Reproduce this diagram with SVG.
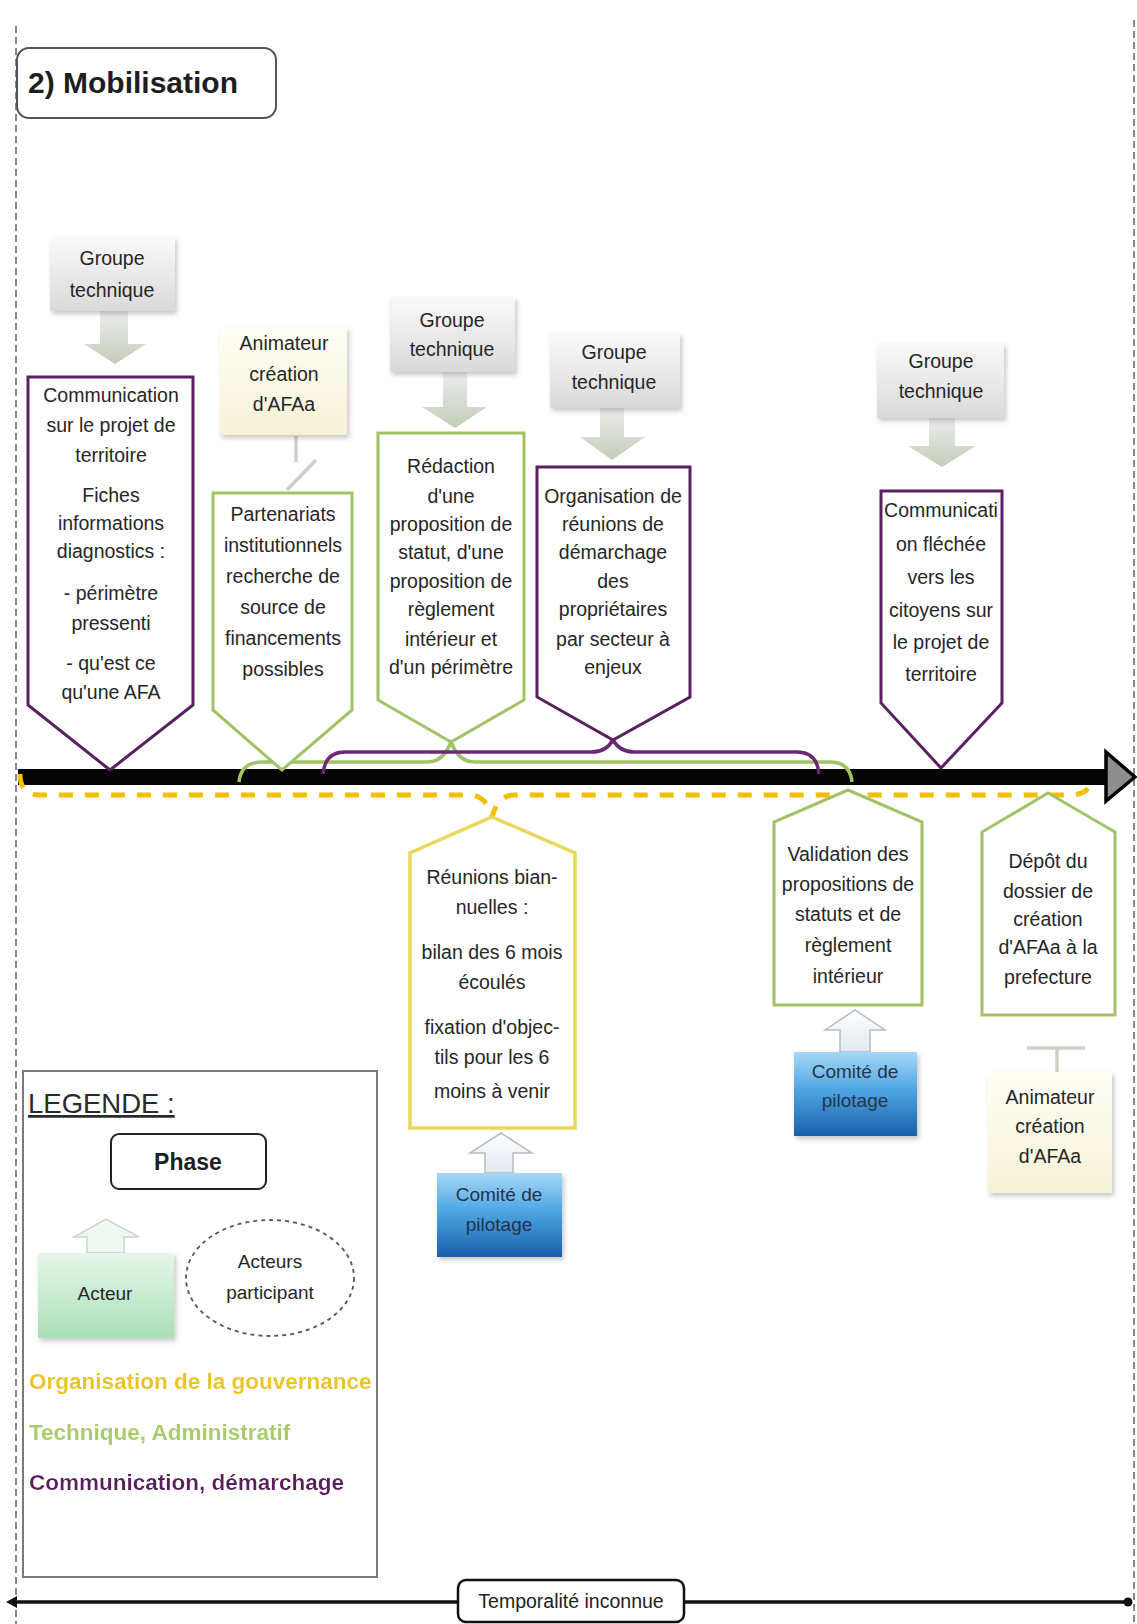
<svg xmlns="http://www.w3.org/2000/svg" width="1137" height="1624" viewBox="0 0 1137 1624">
<defs>
  <linearGradient id="gGray" x1="0" y1="0" x2="0" y2="1">
    <stop offset="0" stop-color="#fafafa"/>
    <stop offset="1" stop-color="#d9d9d9"/>
  </linearGradient>
  <linearGradient id="gArrowDown" x1="0" y1="0" x2="0" y2="1">
    <stop offset="0" stop-color="#ececec"/>
    <stop offset="1" stop-color="#c3cdb8"/>
  </linearGradient>
  <linearGradient id="gCream" x1="0" y1="0" x2="0" y2="1">
    <stop offset="0" stop-color="#fffff6"/>
    <stop offset="1" stop-color="#f6f1d6"/>
  </linearGradient>
  <linearGradient id="gBlue" x1="0" y1="0" x2="0" y2="1">
    <stop offset="0" stop-color="#a6d8f7"/>
    <stop offset="0.45" stop-color="#4ea6e2"/>
    <stop offset="1" stop-color="#1a5fab"/>
  </linearGradient>
  <linearGradient id="gUp" x1="0" y1="0" x2="0" y2="1">
    <stop offset="0" stop-color="#ffffff"/>
    <stop offset="1" stop-color="#dfe8f0"/>
  </linearGradient>
  <linearGradient id="gMint" x1="0" y1="0" x2="0" y2="1">
    <stop offset="0" stop-color="#e6f7ea"/>
    <stop offset="1" stop-color="#a9dfb6"/>
  </linearGradient>
  <filter id="shadow" x="-10%" y="-10%" width="130%" height="130%">
    <feDropShadow dx="2" dy="3" stdDeviation="2.5" flood-color="#000" flood-opacity="0.22"/>
  </filter>
  <filter id="glow" x="-5%" y="-30%" width="110%" height="160%">
    <feGaussianBlur in="SourceAlpha" stdDeviation="1.5" result="b"/>
    <feFlood flood-color="#ffffff"/>
    <feComposite in2="b" operator="in"/>
    <feMerge><feMergeNode/><feMergeNode in="SourceGraphic"/></feMerge>
  </filter>
</defs>
<style>
  text { font-family: "Liberation Sans", Arial, sans-serif; fill: #262626; }
  .t { font-size: 19.5px; text-anchor: middle; }
  .ts { font-size: 19px; text-anchor: middle; }
  .purple { fill: #ffffff; stroke: #5a2160; stroke-width: 3; stroke-linejoin: miter; }
  .green { fill: #ffffff; stroke: #a2c266; stroke-width: 3; }
  .yellow { fill: #ffffff; stroke: #e9d85a; stroke-width: 3.5; }
  .gt { fill: url(#gGray); filter: url(#shadow); }
  .darrow { fill: url(#gArrowDown); }
  .uarrow { fill: url(#gUp); stroke: #b5bcc4; stroke-width: 1.5; }
  .anim { fill: url(#gCream); filter: url(#shadow); }
  .comite { fill: url(#gBlue); filter: url(#shadow); }
  .faded { fill: none; stroke: #cfcfc8; stroke-width: 3.5; }
  .vdash { stroke: #6a6a6a; stroke-width: 1.6; stroke-dasharray: 7 4; fill: none; }
  .leg { font-size: 22.5px; font-weight: bold; }
</style>

<!-- frame dashed lines -->
<g id="frame">
  <line class="vdash" x1="16" y1="26" x2="16" y2="1624"/>
  <line class="vdash" x1="1134" y1="20" x2="1134" y2="1624"/>
</g>

<!-- title -->
<g id="title">
  <rect x="17" y="48" width="259" height="70" rx="12" fill="#ffffff" stroke="#555" stroke-width="2"/>
  <text x="28" y="93" style="font-size:30px;font-weight:bold;fill:#1e1e1e">2) Mobilisation</text>
</g>

<!-- connectors -->
<g id="connectors">
  <!-- main timeline -->
  <rect x="18" y="769" width="1090" height="16" fill="#050505"/>
  <polygon points="1106,752 1135,777 1106,801" fill="#8e8e8e" stroke="#000" stroke-width="3.5" stroke-linejoin="miter"/>
  <!-- braces -->
  <path d="M239 782 Q241 762 262 762 L428 762 Q443 762 451 742 Q459 762 474 762 L830 762 Q850 762 852 782" fill="none" stroke="#a2c266" stroke-width="3.5"/>
  <path d="M323 774 Q325 752 345 752 L592 752 Q606 752 613 740 Q620 752 634 752 L797 752 Q817 752 819 774" fill="none" stroke="#6c2876" stroke-width="3.5"/>
  <path d="M20 774 Q20 795 40 795 L470 795 Q486 795 492 817 Q498 795 514 795 L1070 795 Q1090 795 1092 778" fill="none" stroke="#f2c000" stroke-width="5" stroke-dasharray="14 12"/>
  <!-- actor arrows (down) -->
  <path class="darrow" d="M100 311 H128 V344 H146 L115 364 L84 344 H100 Z"/>
  <path class="darrow" d="M443 372 H467 V407 H487 L455 428 L422 407 H443 Z"/>
  <path class="darrow" d="M600 408 H624 V437 H645 L612 460 L580 437 H600 Z"/>
  <path class="darrow" d="M929 418 H955 V446 H976 L942 467 L908 446 H929 Z"/>
  <!-- actor arrows (up) -->
  <path class="uarrow" d="M485 1173 V1153 H470 L501 1133 L532 1153 H513 V1173 Z"/>
  <path class="uarrow" d="M840 1052 V1030 H825 L855 1010 L885 1030 H870 V1052 Z"/>
  <!-- faded connectors from Animateur boxes -->
  <path class="faded" d="M296 436 V462 M316 460 L287 490"/>
  <path class="faded" d="M1027 1048 H1085 M1057 1048 V1072"/>
  <!-- bottom timeline -->
  <line x1="14" y1="1602" x2="1127" y2="1602" stroke="#111" stroke-width="3.5"/>
  <polygon points="6,1602 17,1596 17,1608" fill="#111"/>
  <circle cx="1128" cy="1602" r="4.5" fill="#111"/>
</g>

<!-- top nodes -->
<g id="gt1">
  <rect class="gt" x="50" y="237" width="125" height="74"/>
  <text class="t" x="112" y="265">Groupe</text>
  <text class="t" x="112" y="297">technique</text>
</g>
<g id="phase1">
  <path class="purple" d="M28 377 H193 V705 L110 770 L28 705 Z"/>
  <text class="t" x="111" y="402">Communication</text>
  <text class="t" x="111" y="432">sur le projet de</text>
  <text class="t" x="111" y="462">territoire</text>
  <text class="t" x="111" y="502">Fiches</text>
  <text class="t" x="111" y="530">informations</text>
  <text class="t" x="111" y="558">diagnostics :</text>
  <text class="t" x="111" y="600">- périmètre</text>
  <text class="t" x="111" y="630">pressenti</text>
  <text class="t" x="111" y="670">- qu'est ce</text>
  <text class="t" x="111" y="699">qu'une AFA</text>
</g>
<g id="anim1">
  <rect class="anim" x="220" y="327" width="127" height="108"/>
  <text class="t" x="284" y="350">Animateur</text>
  <text class="t" x="284" y="381">création</text>
  <text class="t" x="284" y="411">d'AFAa</text>
</g>
<g id="phase2">
  <path class="green" d="M213 493 H352 V710 L282 770 L213 710 Z"/>
  <text class="t" x="283" y="521">Partenariats</text>
  <text class="t" x="283" y="552">institutionnels</text>
  <text class="t" x="283" y="583">recherche de</text>
  <text class="t" x="283" y="614">source de</text>
  <text class="t" x="283" y="645">financements</text>
  <text class="t" x="283" y="676">possibles</text>
</g>
<g id="gt3">
  <rect class="gt" x="390" y="297" width="125" height="75"/>
  <text class="t" x="452" y="327">Groupe</text>
  <text class="t" x="452" y="356">technique</text>
</g>
<g id="phase3">
  <path class="green" d="M378 433 H524 V700 L451 742 L378 700 Z"/>
  <text class="t" x="451" y="473">Rédaction</text>
  <text class="t" x="451" y="503">d'une</text>
  <text class="t" x="451" y="531">proposition de</text>
  <text class="t" x="451" y="559">statut, d'une</text>
  <text class="t" x="451" y="588">proposition de</text>
  <text class="t" x="451" y="616">règlement</text>
  <text class="t" x="451" y="646">intérieur et</text>
  <text class="t" x="451" y="674">d'un périmètre</text>
</g>
<g id="gt4">
  <rect class="gt" x="550" y="333" width="130" height="75"/>
  <text class="t" x="614" y="359">Groupe</text>
  <text class="t" x="614" y="389">technique</text>
</g>
<g id="phase4">
  <path class="purple" d="M537 467 H690 V697 L613 740 L537 697 Z"/>
  <text class="t" x="613" y="503">Organisation de</text>
  <text class="t" x="613" y="531">réunions de</text>
  <text class="t" x="613" y="559">démarchage</text>
  <text class="t" x="613" y="588">des</text>
  <text class="t" x="613" y="616">propriétaires</text>
  <text class="t" x="613" y="646">par secteur à</text>
  <text class="t" x="613" y="674">enjeux</text>
</g>
<g id="gt5">
  <rect class="gt" x="877" y="343" width="127" height="75"/>
  <text class="t" x="941" y="368">Groupe</text>
  <text class="t" x="941" y="398">technique</text>
</g>
<g id="phase5">
  <path class="purple" d="M881 491 H1002 V703 L941 768 L881 703 Z"/>
  <text class="t" x="941" y="517">Communicati</text>
  <text class="t" x="941" y="551">on fléchée</text>
  <text class="t" x="941" y="584">vers les</text>
  <text class="t" x="941" y="617">citoyens sur</text>
  <text class="t" x="941" y="649">le projet de</text>
  <text class="t" x="941" y="681">territoire</text>
</g>

<!-- bottom nodes -->
<g id="phase6">
  <path class="yellow" d="M492 817 L575 853 V1128 H410 V853 Z"/>
  <text class="t" x="492" y="884">Réunions bian-</text>
  <text class="t" x="492" y="914">nuelles :</text>
  <text class="t" x="492" y="959">bilan des 6 mois</text>
  <text class="t" x="492" y="989">écoulés</text>
  <text class="t" x="492" y="1034">fixation d'objec-</text>
  <text class="t" x="492" y="1064">tils pour les 6</text>
  <text class="t" x="492" y="1098">moins à venir</text>
</g>
<g id="comite1">
  <rect class="comite" x="437" y="1173" width="125" height="84"/>
  <text class="ts" x="499" y="1201" style="fill:#24354a">Comité de</text>
  <text class="ts" x="499" y="1231" style="fill:#24354a">pilotage</text>
</g>
<g id="phase7">
  <path class="green" d="M848 790 L922 822 V1005 H774 V822 Z"/>
  <text class="t" x="848" y="861">Validation des</text>
  <text class="t" x="848" y="891">propositions de</text>
  <text class="t" x="848" y="921">statuts et de</text>
  <text class="t" x="848" y="952">règlement</text>
  <text class="t" x="848" y="983">intérieur</text>
</g>
<g id="comite2">
  <rect class="comite" x="794" y="1052" width="123" height="84"/>
  <text class="ts" x="855" y="1078" style="fill:#24354a">Comité de</text>
  <text class="ts" x="855" y="1107" style="fill:#24354a">pilotage</text>
</g>
<g id="phase8">
  <path class="green" d="M1048 793 L1115 832 V1015 H982 V832 Z"/>
  <text class="t" x="1048" y="868">Dépôt du</text>
  <text class="t" x="1048" y="898">dossier de</text>
  <text class="t" x="1048" y="926">création</text>
  <text class="t" x="1048" y="954">d'AFAa à la</text>
  <text class="t" x="1048" y="984">prefecture</text>
</g>
<g id="anim2">
  <rect class="anim" x="988" y="1072" width="124" height="121"/>
  <text class="t" x="1050" y="1104">Animateur</text>
  <text class="t" x="1050" y="1133">création</text>
  <text class="t" x="1050" y="1163">d'AFAa</text>
</g>

<!-- legend -->
<g id="legend">
  <rect x="23" y="1071" width="354" height="506" fill="#ffffff" stroke="#7a7a7a" stroke-width="2"/>
  <text x="28" y="1113" style="font-size:27.5px;text-decoration:underline;fill:#2a2a2a">LEGENDE :</text>
  <rect x="111" y="1134" width="155" height="55" rx="8" fill="#ffffff" stroke="#222" stroke-width="2"/>
  <text x="188" y="1170" style="font-size:23px;font-weight:bold;text-anchor:middle;fill:#1e1e1e">Phase</text>
  <path d="M87 1253 V1237 H74 L106 1219 L139 1237 H124 V1253 Z" fill="#eef8f1" stroke="#c9d6cc" stroke-width="1.5"/>
  <rect x="38" y="1253" width="136" height="85" fill="url(#gMint)" filter="url(#shadow)"/>
  <text class="ts" x="105" y="1300">Acteur</text>
  <ellipse cx="270" cy="1278" rx="84" ry="58" fill="#ffffff" stroke="#555" stroke-width="1.8" stroke-dasharray="4 4"/>
  <text class="ts" x="270" y="1268">Acteurs</text>
  <text class="ts" x="270" y="1299">participant</text>
  <text class="leg" x="29" y="1389" filter="url(#glow)" style="fill:#eac51c">Organisation de la gouvernance</text>
  <text class="leg" x="29" y="1440" filter="url(#glow)" style="fill:#a9cc6a">Technique, Administratif</text>
  <text class="leg" x="29" y="1490" filter="url(#glow)" style="fill:#5c1e5e">Communication, démarchage</text>
</g>

<!-- bottom label -->
<g id="temporalite">
  <rect x="458" y="1580" width="226" height="42" rx="8" fill="#ffffff" stroke="#111" stroke-width="2.5"/>
  <text x="571" y="1608" style="font-size:19.5px;text-anchor:middle;fill:#222">Temporalité inconnue</text>
</g>
</svg>
